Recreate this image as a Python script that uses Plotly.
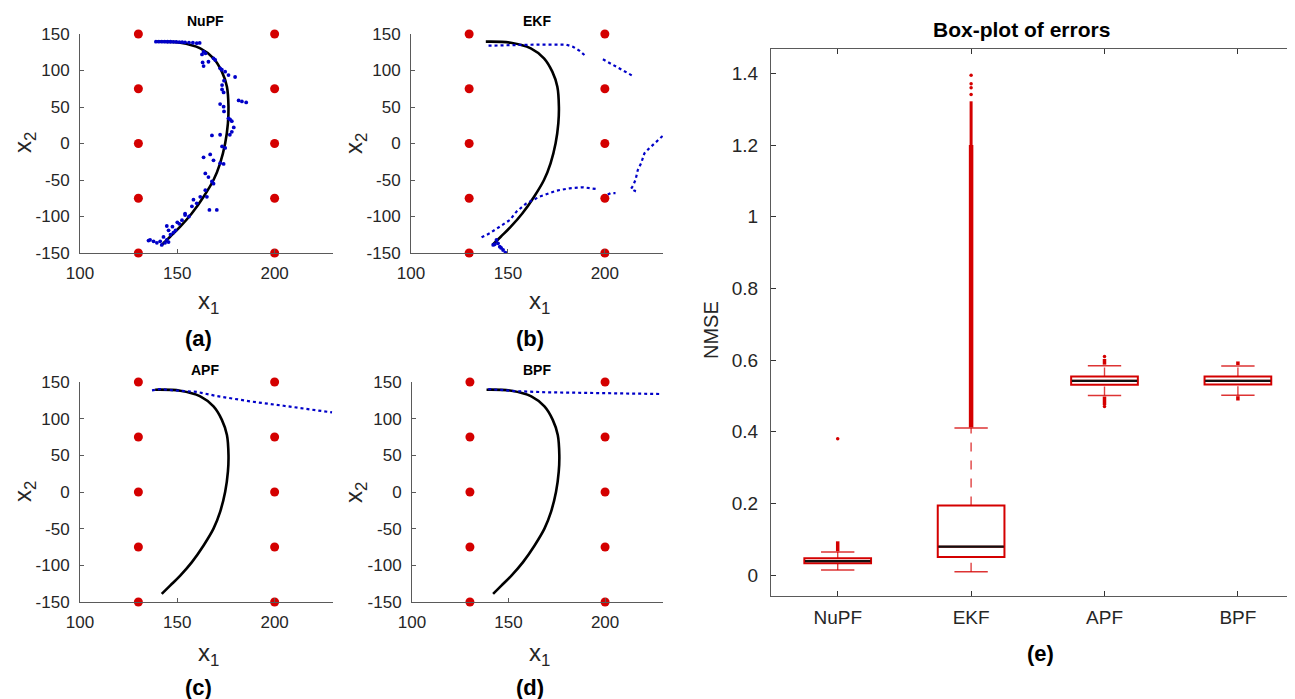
import plotly.graph_objects as go

FONT = "Liberation Sans"
RED = "#d40000"
BLUE = "#0000c8"
TXT = "#262626"
AXC = "#5a5a5a"

# ---------------- data: trajectory panels ----------------
anchor_x1 = [130, 130, 130, 130, 130, 200, 200, 200, 200, 200]
anchor_x2 = [-150, -75, 0, 75, 150, -150, -75, 0, 75, 150]

true_x1 = [138.6, 151.5, 161.8, 168.6, 172.9, 175.5, 176.3, 176.0, 174.6, 172.0, 168.6, 163.5, 157.5, 151.5, 146.3, 142.0]
true_x2 = [139.5, 138.1, 130.4, 116.7, 98.4, 77.8, 50.4, 27.7, 0.3, -27.1, -50.0, -72.9, -95.6, -114.0, -127.7, -139.0]

nupf_x1 = [139, 140.5, 142, 143.5, 145, 146.5, 148, 149.5, 151, 152.5, 154, 156, 158, 160, 161.5,
           163.5, 164.5, 162.7, 163, 163.5, 166, 168.6, 169.5, 172, 172.9, 174.6, 176.3, 179.7, 174, 173,
           173, 173.8, 172, 173.8, 174, 181.5, 183.2, 185.4, 176.3, 177.1, 178, 179, 178, 177, 167.8,
           172, 173, 174.6, 163.5, 166.9, 168.6, 172, 173.8, 164.4, 166, 167.8, 168.6, 164.4, 165.2, 170.3,
           166.5, 158.3, 160, 161.8, 157.5, 154, 156, 152.4, 154, 147.5, 149.1, 145.5, 144.6, 142.9, 144.6,
           141.2, 139.5, 136, 137.8, 135.2, 142, 143.7, 145.5, 151, 150, 146.5, 148]
nupf_x2 = [139.5, 139.5, 139.5, 139.5, 139.4, 139.4, 139.3, 139.2, 139, 138.8, 138.6, 138.3, 138, 137.5, 137.8,
           125.8, 123.5, 122, 111, 106, 112, 116.7, 114.4, 103, 101, 98.4, 93.8, 91.1, 86, 80,
           74, 70, 54, 50.4, 44, 59, 57.6, 56.2, 34.5, 33, 30.6, 22, 16, 12, 11,
           12, -4, -6, -19, -15, -23, -27, -28, -41, -46, -52, -55, -64, -73, -91,
           -91, -77, -82, -73, -86, -96, -100, -105, -98, -114, -119, -119, -113, -128, -132,
           -134, -136, -132, -134, -133, -139, -136, -135, -110, -108, -125, -122]

ekf_a_x1 = [140, 145, 150, 155, 160, 165, 170, 175, 180, 183.5, 187, 190.4]
ekf_a_x2 = [134, 134.5, 135, 135, 135.2, 135.5, 135.5, 135.5, 135.5, 132.6, 127, 119]
ekf_b_x1 = [199, 204, 209, 214.4]
ekf_b_x2 = [115.3, 107.5, 100.7, 92.5]
ekf_c_x1 = [229.8, 226.4, 222.9, 220.4, 218.7, 217, 215.8, 214.5, 213.5, 215.5, 216]
ekf_c_x2 = [10.3, 2.5, -6.6, -13.5, -27.2, -36.3, -50, -58, -62, -65, -60]
ekf_d_x1 = [136.4, 140.6, 145.8, 151, 154.4, 159.5, 166.4, 175, 181.8, 188.7, 195.5]
ekf_d_x2 = [-128.5, -123, -113.9, -104.8, -93.4, -82, -72.8, -64.6, -61.4, -60, -62.3]
ekf_e_x1 = [201.5, 203, 205.5]
ekf_e_x2 = [-70, -68, -68]
ekf_f_x1 = [142.4, 144.1, 144.9, 145.8, 147.5, 148.7, 143.2, 146.5]
ekf_f_x2 = [-139, -132.2, -136.7, -141.3, -145.9, -149.5, -138, -143]

apf_x1 = [137, 141, 148, 160, 170, 187.5, 204.6, 229.5]
apf_x2 = [138.6, 140.4, 138.6, 136.5, 131, 123.5, 117.6, 108.5]

bpf_x1 = [139.5, 147, 154, 169.5, 195, 229.5]
bpf_x2 = [140.4, 139, 137.5, 136, 135, 133.6]

x1_ticks = [100, 150, 200]
x2_ticks = [-150, -100, -50, 0, 50, 100, 150]
x2_tick_text = ["-150", "-100", "-50", "0", "50", "100", "150"]

# ---------------- data: box plot ----------------
methods = ["NuPF", "EKF", "APF", "BPF"]
q1 = [0.033, 0.050, 0.531, 0.532]
median = [0.039, 0.079, 0.542, 0.542]
q3 = [0.047, 0.194, 0.554, 0.554]
lower_whisker = [0.014, 0.009, 0.501, 0.502]
upper_whisker = [0.064, 0.410, 0.584, 0.583]
# dense outlier bands: (method index, from, to, thickness)
band_method = [0, 1, 1, 2, 2, 3, 3]
band_lo = [0.066, 0.412, 1.20, 0.587, 0.474, 0.586, 0.487]
band_hi = [0.094, 1.20, 1.322, 0.603, 0.498, 0.596, 0.499]
band_w = [3.5, 4.5, 3, 3.5, 3.5, 3.5, 3.5]
# isolated outliers
iso_method = [0, 1, 1, 1, 1, 2, 2]
iso_value = [0.380, 1.341, 1.360, 1.371, 1.395, 0.610, 0.470]
nmse_ticks = [0, 0.2, 0.4, 0.6, 0.8, 1.0, 1.2, 1.4]
nmse_tick_text = ["0", "0.2", "0.4", "0.6", "0.8", "1", "1.2", "1.4"]

# ---------------- layout helpers ----------------
W, H = 1295, 699
OFF = 8  # page body margin: figure is drawn at (8, 8) in the window


def xd(a, b):
    return [(a - OFF) / W, min(1.0, (b - OFF) / W)]


def yd(top, bottom):
    return [1 - (bottom - OFF) / H, 1 - (top - OFF) / H]


fig = go.Figure()

panels = [
    ("x", "y", xd(80, 333), yd(34, 253)),
    ("x2", "y2", xd(411, 663), yd(34, 253)),
    ("x3", "y3", xd(80, 333), yd(382, 602)),
    ("x4", "y4", xd(412, 663), yd(382, 602)),
]

estimates = [
    [("markers", nupf_x1, nupf_x2)],
    [("lines", ekf_a_x1, ekf_a_x2), ("lines", ekf_b_x1, ekf_b_x2), ("lines", ekf_c_x1, ekf_c_x2),
     ("lines", ekf_d_x1, ekf_d_x2), ("lines", ekf_e_x1, ekf_e_x2), ("markers", ekf_f_x1, ekf_f_x2)],
    [("lines", apf_x1, apf_x2)],
    [("lines", bpf_x1, bpf_x2)],
]

for i, (xa, ya, dx, dy) in enumerate(panels):
    fig.add_trace(go.Scatter(x=anchor_x1, y=anchor_x2, mode="markers", xaxis=xa, yaxis=ya,
                             marker=dict(color=RED, size=9), cliponaxis=False, hoverinfo="skip"))
    fig.add_trace(go.Scatter(x=true_x1, y=true_x2, mode="lines", xaxis=xa, yaxis=ya,
                             line=dict(color="black", width=2.6, shape="spline"), hoverinfo="skip"))
    for mode, ex, ey in estimates[i]:
        if mode == "markers":
            fig.add_trace(go.Scatter(x=ex, y=ey, mode="markers", xaxis=xa, yaxis=ya,
                                     marker=dict(color=BLUE, size=3.8), hoverinfo="skip"))
        else:
            fig.add_trace(go.Scatter(x=ex, y=ey, mode="lines", xaxis=xa, yaxis=ya,
                                     line=dict(color=BLUE, width=2.2, dash="dot"), hoverinfo="skip"))
    n = "" if i == 0 else str(i + 1)
    common = dict(showline=True, linecolor=AXC, linewidth=1, showgrid=False, zeroline=False,
                  ticks="inside", ticklen=4, tickcolor=AXC, automargin=False,
                  tickfont=dict(family=FONT, size=17, color=TXT))
    fig.update_layout(**{
        "xaxis" + n: dict(domain=dx, range=[100, 230], tickvals=x1_ticks,
                          anchor="y" + n, ticklabelstandoff=5, **common),
        "yaxis" + n: dict(domain=dy, range=[-150, 150],
                          tickvals=x2_ticks, ticktext=x2_tick_text,
                          anchor="x" + n, ticklabelstandoff=6, **common),
    })

# ---------------- box plot ----------------
pos = [1, 2, 3, 4]
for k in range(4):
    fig.add_trace(go.Box(x=[pos[k]], q1=[q1[k]], median=[median[k]], q3=[q3[k]],
                         lowerfence=[q1[k]], upperfence=[q3[k]], width=0.5,
                         line=dict(color=RED, width=2), fillcolor="rgba(255,255,255,0)",
                         boxpoints=False, xaxis="x5", yaxis="y5", hoverinfo="skip"))
    # whiskers
    fig.add_trace(go.Scatter(x=[pos[k], pos[k], None, pos[k], pos[k]],
                             y=[lower_whisker[k], q1[k], None, q3[k], upper_whisker[k]],
                             mode="lines", line=dict(color="rgba(212,0,0,0.75)", width=1.4, dash="dash"),
                             xaxis="x5", yaxis="y5", hoverinfo="skip"))
    # caps
    fig.add_trace(go.Scatter(x=[pos[k] - 0.125, pos[k] + 0.125, None, pos[k] - 0.125, pos[k] + 0.125],
                             y=[lower_whisker[k], lower_whisker[k], None, upper_whisker[k], upper_whisker[k]],
                             mode="lines", line=dict(color="rgba(212,0,0,0.8)", width=1.5),
                             xaxis="x5", yaxis="y5", hoverinfo="skip"))
    # median (black)
    fig.add_trace(go.Scatter(x=[pos[k] - 0.245, pos[k] + 0.245], y=[median[k], median[k]],
                             mode="lines", line=dict(color="#111111", width=2.2),
                             xaxis="x5", yaxis="y5", hoverinfo="skip"))

for m, lo, hi, w in zip(band_method, band_lo, band_hi, band_w):
    fig.add_trace(go.Scatter(x=[pos[m], pos[m]], y=[lo, hi], mode="lines",
                             line=dict(color=RED, width=w), xaxis="x5", yaxis="y5", hoverinfo="skip"))

fig.add_trace(go.Scatter(x=[pos[m] for m in iso_method], y=iso_value, mode="markers",
                         marker=dict(color=RED, size=3.5), xaxis="x5", yaxis="y5", hoverinfo="skip"))

box_left = 771
cat_px = 133.4
fig.update_layout(
    xaxis5=dict(domain=[(box_left - OFF) / W, 1.0],
                range=[0.5, 0.5 + (W + OFF - box_left) / cat_px], anchor="y5",
                tickvals=pos, ticktext=methods, showline=True, mirror="ticks", linecolor=AXC,
                linewidth=1.2, ticks="inside", ticklen=5, tickcolor="#333", showgrid=False,
                zeroline=False, automargin=False,
                tickfont=dict(family=FONT, size=19, color=TXT), ticklabelstandoff=4),
    yaxis5=dict(domain=yd(49, 596), range=[-0.0586, 1.468], anchor="x5",
                tickvals=nmse_ticks, ticktext=nmse_tick_text,
                showline=True, linecolor=AXC, linewidth=1.2, ticks="inside", ticklen=5,
                tickcolor="#333", showgrid=False, zeroline=False, automargin=False,
                tickfont=dict(family=FONT, size=19, color=TXT), ticklabelstandoff=8),
)


def ann(text, x, y, size, bold=False, angle=0):
    t = "<b>%s</b>" % text if bold else text
    return dict(text=t, x=(x - OFF) / W, y=1 - (y - OFF) / H, xref="paper", yref="paper",
                showarrow=False, xanchor="center", yanchor="middle", textangle=angle,
                font=dict(family=FONT, size=size, color="black" if bold else TXT))


annotations = [
    ann("NuPF", 206, 21, 14, True), ann("EKF", 537, 21, 14, True),
    ann("APF", 205, 370, 14, True), ann("BPF", 537, 370, 14, True),
    ann("(a)", 199, 338, 22, True), ann("(b)", 530, 338, 22, True),
    ann("(c)", 199, 687, 22, True), ann("(d)", 530, 687, 22, True),
    ann("x<sub>1</sub>", 208, 302, 24), ann("x<sub>1</sub>", 539, 302, 24),
    ann("x<sub>1</sub>", 208, 654, 24), ann("x<sub>1</sub>", 539, 654, 24),
    ann("x<sub>2</sub>", 24, 143, 24, angle=-90), ann("x<sub>2</sub>", 355, 143, 24, angle=-90),
    ann("x<sub>2</sub>", 24, 492, 24, angle=-90), ann("x<sub>2</sub>", 355, 492, 24, angle=-90),
    ann("Box-plot of errors", 1021, 29, 21, True),
    ann("NMSE", 711, 330, 20, angle=-90),
    ann("(e)", 1040, 653, 22, True),
]

fig.update_layout(width=W, height=H, margin=dict(l=0, r=0, t=0, b=0, pad=0, autoexpand=False),
                  paper_bgcolor="white", plot_bgcolor="white", showlegend=False,
                  annotations=annotations)

fig.write_html("out.html")
